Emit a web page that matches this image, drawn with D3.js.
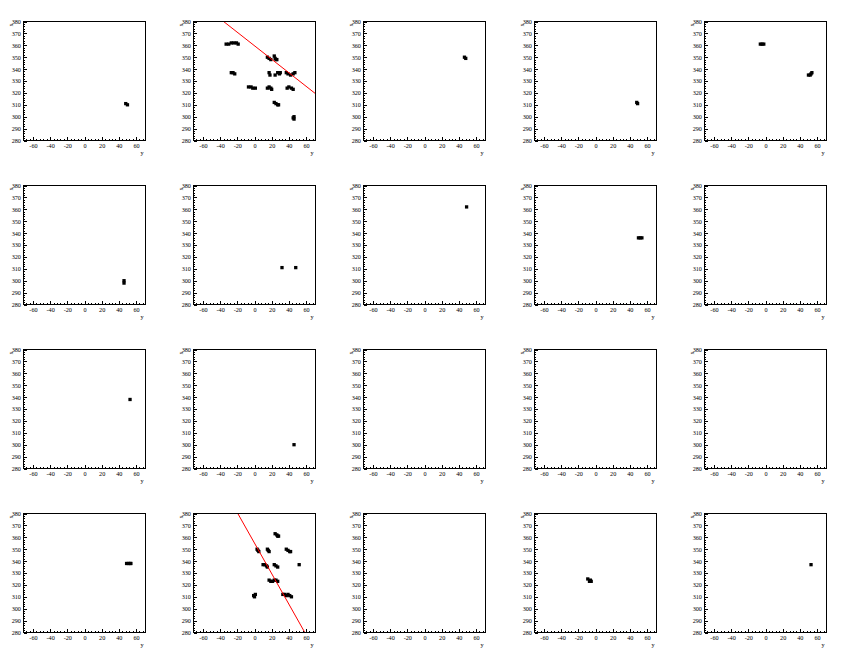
<!DOCTYPE html>
<html><head><meta charset="utf-8">
<script src="https://cdn.jsdelivr.net/npm/d3@7"></script>
<style>body{margin:0;background:#fff}svg{display:block}</style>
</head><body>
<svg id="c" width="851" height="656"></svg>
<script>
// ---- data ----
const xDomain = [-71, 71];
const yDomain = [280, 380];
const xMajor = [-60, -40, -20, 0, 20, 40, 60];
const xMinor = d3.range(-68, 69, 4);
const yMajor = [280, 290, 300, 310, 320, 330, 340, 350, 360, 370, 380];
const yMinor = d3.range(280, 381, 2);
const xTitle = "y";
const yTitle = "x";

// points per pad (row-major, 5 columns x 4 rows), each [y, x]
const pad0 = [[48,311],[50,310]];
const pad1 = [
  [-33,361],[-30,361],[-27,362],[-24,362],[-21,362],[-19,361],
  [-27,337],[-25,337],[-23,336],
  [-7,325],[-4,325],[-2,324],[1,324],
  [15,324],[17,325],[19,324],[20,323],
  [38,324],[40,325],[43,324],[45,323],
  [17,337],[18,335],
  [24,335],[27,337],[29,336],[30,337],
  [37,337],[39,336],[42,335],[45,336],[47,337],
  [15,350],[17,349],[19,348],
  [23,351],[24,349],[25,348],[26,348],
  [23,312],[25,311],[27,310],[28,310],
  [45,299],[46,298],[46,300]
];
const pad2 = [[46.5,350],[48,349]];
const pad3 = [[48,312],[49,311]];
const pad4 = [[-6,361],[-4,361],[-2,361],[50,335],[52,335],[53,336],[54,337]];
const pad5 = [[46,300],[46,298]];
const pad6 = [[32,311],[48,311]];
const pad7 = [[49,362]];
const pad8 = [[50,336],[52,336],[54,336]];
const pad9 = [];
const pad10 = [[53,338]];
const pad11 = [[46,300]];
const pad12 = [];
const pad13 = [];
const pad14 = [];
const pad15 = [[49,338],[51,338],[53,338],[54,338]];
const pad16 = [
  [24,363],[26,362],[27,361],[28,361],
  [3,350],[4,349],[5,348],
  [15,350],[16,349],[17,348],
  [37,350],[39,349],[41,348],[42,348],
  [10,337],[12,337],[14,336],[15,335],
  [23,337],[25,336],[27,335],
  [52,337],
  [17,324],[19,323],[21,323],[23,324],[25,324],[27,323],
  [-1,311],[1,312],[0,310],
  [33,312],[35,312],[37,311],[39,312],[41,311],[43,310]
];
const pad17 = [];
const pad18 = [[-9,325],[-7,323],[-6,324],[-5,323]];
const pad19 = [[53,337]];
const pads = [pad0,pad1,pad2,pad3,pad4,pad5,pad6,pad7,pad8,pad9,
              pad10,pad11,pad12,pad13,pad14,pad15,pad16,pad17,pad18,pad19];

// fitted lines: x = intercept + slope * y
const fitPads = [1, 16];
const fitIntercepts = [359.6, 355.1];
const fitSlopes = [-0.567, -1.282];

// ---- layout ----
const W = 851, H = 656, nCols = 5;
const padW = W / nCols, padH = 164;
const fL = 23.5, fR = 145.5, fT = 21.5, fB = 140.5;
const font = "'Liberation Serif', 'DejaVu Serif', serif";
const fs = 6.2;
const ms = 3.3;

const svg = d3.select('#c');
const defs = svg.append('defs');

pads.forEach((pts, i) => {
  const col = i % nCols, row = Math.floor(i / nCols);
  const ox = Math.round(col * padW), oy = row * padH;
  const g = svg.append('g').attr('transform', `translate(${ox},${oy})`);
  const x = d3.scaleLinear().domain(xDomain).range([fL, fR]);
  const y = d3.scaleLinear().domain(yDomain).range([fB, fT]);

  const cid = 'clip' + i;
  defs.append('clipPath').attr('id', cid).append('rect')
    .attr('x', fL).attr('y', fT).attr('width', fR - fL).attr('height', fB - fT);

  const plot = g.append('g').attr('clip-path', `url(#${cid})`);
  plot.selectAll('rect.pt').data(pts).join('rect')
    .attr('class', 'pt')
    .attr('x', d => x(d[0]) - ms / 2).attr('y', d => y(d[1]) - ms / 2)
    .attr('width', ms).attr('height', ms).attr('fill', '#000');

  const fi = fitPads.indexOf(i);
  if (fi >= 0) {
    const a = fitIntercepts[fi], b = fitSlopes[fi];
    const line = d3.line().x(d => x(d)).y(d => y(a + b * d));
    plot.append('path').datum(xDomain).attr('d', line)
      .attr('fill', 'none').attr('stroke', '#ff0000').attr('stroke-width', 1);
  }

  // axes (ticks inward)
  const xa = g.append('g').attr('transform', `translate(0,${fB})`)
    .call(d3.axisBottom(x).tickValues(xMajor).tickSize(-3.6).tickSizeOuter(0).tickPadding(3.4)
      .tickFormat(d => String(d)));
  const xm = g.append('g').attr('transform', `translate(0,${fB})`)
    .call(d3.axisBottom(x).tickValues(xMinor).tickSize(-1.8).tickSizeOuter(0).tickFormat(''));
  const ya = g.append('g').attr('transform', `translate(${fL},0)`)
    .call(d3.axisLeft(y).tickValues(yMajor).tickSize(-3.7).tickSizeOuter(0).tickPadding(2.6)
      .tickFormat(d => String(d)));
  const ym = g.append('g').attr('transform', `translate(${fL},0)`)
    .call(d3.axisLeft(y).tickValues(yMinor).tickSize(-1.8).tickSizeOuter(0).tickFormat(''));
  [xa, xm, ya, ym].forEach(a => {
    a.select('.domain').remove();
    a.selectAll('line').attr('shape-rendering', 'crispEdges').attr('stroke', '#000');
    a.selectAll('text').attr('font-family', font).attr('font-size', fs).attr('fill', '#000');
  });

  // frame
  g.append('rect').attr('x', fL).attr('y', fT).attr('width', fR - fL).attr('height', fB - fT)
    .attr('fill', 'none').attr('stroke', '#000').attr('stroke-width', 1)
    .attr('shape-rendering', 'crispEdges');

  // titles
  g.append('text').attr('x', fR - 2).attr('y', fB + 14.5)
    .attr('text-anchor', 'end').attr('font-family', font).attr('font-size', fs)
    .text(xTitle);
  g.append('text').attr('transform', `translate(13,${fT + 2}) rotate(-90)`)
    .attr('text-anchor', 'end').attr('font-family', font).attr('font-size', fs)
    .text(yTitle);
});
</script>
</body></html>
